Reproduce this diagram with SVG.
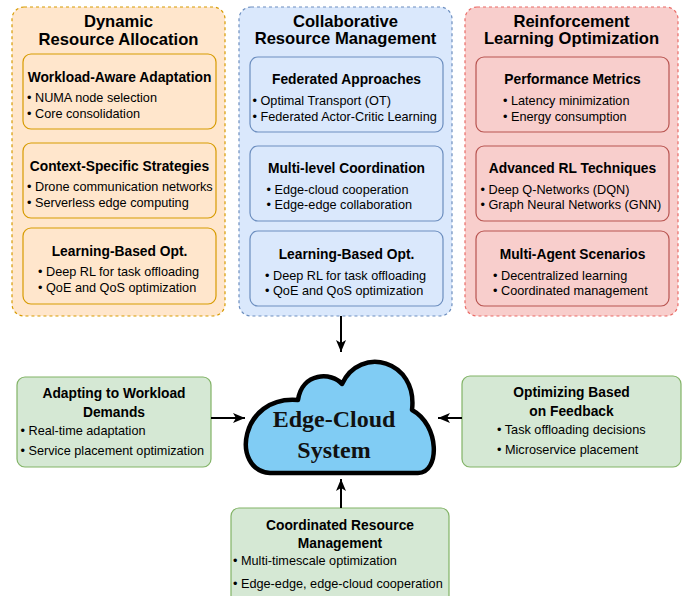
<svg xmlns="http://www.w3.org/2000/svg" width="699" height="596" viewBox="0 0 699 596">
<style>
text{font-family:"Liberation Sans",Arial,Helvetica,sans-serif;fill:#000}
.t{font-size:16.6px;font-weight:bold;text-anchor:middle}
.h{font-size:13.8px;font-weight:bold;text-anchor:middle}
.i{font-size:12.7px}
.c{font-family:"Liberation Serif","Times New Roman",serif;font-size:24px;font-weight:bold;text-anchor:middle;fill:#111}
.oc{fill:#ffe6cc;stroke:#d79b00;stroke-width:1.2;stroke-dasharray:3 3}
.oi{fill:#ffe6cc;stroke:#d79b00;stroke-width:1.2}
.bc{fill:#dae8fc;stroke:#6c8ebf;stroke-width:1.2;stroke-dasharray:3 3}
.bi{fill:#dae8fc;stroke:#6c8ebf;stroke-width:1.2}
.rc{fill:#f8cecc;stroke:#ea6b66;stroke-width:1.2;stroke-dasharray:3 3}
.ri{fill:#f8cecc;stroke:#b85450;stroke-width:1.2}
.g{fill:#d5e8d4;stroke:#82b366;stroke-width:1.2}
.e{fill:none;stroke:#000;stroke-width:2}
</style>
<defs>
<marker id="ah" markerUnits="userSpaceOnUse" markerWidth="13" markerHeight="11" refX="12" refY="5" orient="auto">
<path d="M0,0 L12,5 L0,10 L3,5 z" fill="#000"/>
</marker>
</defs>

<g id="dynamic-resource-allocation">
<rect class="oc" x="12" y="7" width="213" height="309" rx="12"/>
<text class="t" x="118.5" y="27">Dynamic</text>
<text class="t" x="118.5" y="45">Resource Allocation</text>
</g>
<g id="workload-aware">
<rect class="oi" x="23" y="54" width="193" height="75" rx="8"/>
<text class="h" x="119.5" y="82">Workload-Aware Adaptation</text>
<text class="i" x="27" y="102">• NUMA node selection</text>
<text class="i" x="27" y="118">• Core consolidation</text>
</g>
<g id="context-specific">
<rect class="oi" x="23" y="143" width="193" height="75" rx="8"/>
<text class="h" x="119.5" y="171">Context-Specific Strategies</text>
<text class="i" x="27" y="191">• Drone communication networks</text>
<text class="i" x="27" y="207">• Serverless edge computing</text>
</g>
<g id="learning-based-1">
<rect class="oi" x="23" y="228" width="193" height="76" rx="8"/>
<text class="h" x="119.5" y="256">Learning-Based Opt.</text>
<text class="i" x="38" y="276">• Deep RL for task offloading</text>
<text class="i" x="38" y="292">• QoE and QoS optimization</text>
</g>

<g id="collaborative-resource-management">
<rect class="bc" x="239" y="7" width="213" height="309" rx="12"/>
<text class="t" x="345.5" y="26.5">Collaborative</text>
<text class="t" x="345.5" y="44">Resource Management</text>
</g>
<g id="federated">
<rect class="bi" x="250" y="57" width="193" height="75" rx="8"/>
<text class="h" x="346.5" y="84">Federated Approaches</text>
<text class="i" x="252.5" y="104.5">• Optimal Transport (OT)</text>
<text class="i" x="252.5" y="120.5">• Federated Actor-Critic Learning</text>
</g>
<g id="multi-level">
<rect class="bi" x="250" y="146" width="193" height="75" rx="8"/>
<text class="h" x="346.5" y="173">Multi-level Coordination</text>
<text class="i" x="266.5" y="193.5">• Edge-cloud cooperation</text>
<text class="i" x="266.5" y="208.5">• Edge-edge collaboration</text>
</g>
<g id="learning-based-2">
<rect class="bi" x="250" y="231" width="193" height="75" rx="8"/>
<text class="h" x="346.5" y="259">Learning-Based Opt.</text>
<text class="i" x="265" y="279.5">• Deep RL for task offloading</text>
<text class="i" x="265" y="294.5">• QoE and QoS optimization</text>
</g>

<g id="reinforcement-learning-optimization">
<rect class="rc" x="465" y="7" width="213" height="309" rx="12"/>
<text class="t" x="571.5" y="26.5">Reinforcement</text>
<text class="t" x="571.5" y="44">Learning Optimization</text>
</g>
<g id="performance-metrics">
<rect class="ri" x="476" y="57" width="193" height="75" rx="8"/>
<text class="h" x="572.5" y="84">Performance Metrics</text>
<text class="i" x="503" y="104.5">• Latency minimization</text>
<text class="i" x="503" y="120.5">• Energy consumption</text>
</g>
<g id="advanced-rl">
<rect class="ri" x="476" y="146" width="193" height="75" rx="8"/>
<text class="h" x="572.5" y="173">Advanced RL Techniques</text>
<text class="i" x="480.5" y="193.5">• Deep Q-Networks (DQN)</text>
<text class="i" x="480.5" y="208.5">• Graph Neural Networks (GNN)</text>
</g>
<g id="multi-agent">
<rect class="ri" x="476" y="231" width="193" height="75" rx="8"/>
<text class="h" x="572.5" y="259">Multi-Agent Scenarios</text>
<text class="i" x="493" y="279.5">• Decentralized learning</text>
<text class="i" x="493" y="294.5">• Coordinated management</text>
</g>

<g id="edge-cloud-system">
<path d="M270,473 L418,473 C440,473 440,425 412,410 C418,360 360,345 342,384 C332,372 302,372 298,400 C240,395 230,470 270,473 Z" fill="#80ccf4" stroke="#000" stroke-width="4.5" stroke-linejoin="round"/>
<text class="c" x="334" y="427">Edge-Cloud</text>
<text class="c" x="334" y="458">System</text>
</g>

<g id="adapting-workload">
<rect class="g" x="17" y="377" width="194" height="90" rx="8"/>
<text class="h" x="114" y="398">Adapting to Workload</text>
<text class="h" x="114" y="416.5">Demands</text>
<text class="i" x="20.5" y="434.5">• Real-time adaptation</text>
<text class="i" x="20.5" y="454.5">• Service placement optimization</text>
</g>
<g id="optimizing-feedback">
<rect class="g" x="462" y="376" width="219" height="91" rx="8"/>
<text class="h" x="571.5" y="397">Optimizing Based</text>
<text class="h" x="571.5" y="415.5">on Feedback</text>
<text class="i" x="497" y="433.5">• Task offloading decisions</text>
<text class="i" x="497" y="453.5">• Microservice placement</text>
</g>
<g id="coordinated-resource-management">
<rect class="g" x="231" y="508" width="218" height="100" rx="8"/>
<text class="h" x="340" y="530">Coordinated Resource</text>
<text class="h" x="340" y="548">Management</text>
<text class="i" x="233" y="564.5">• Multi-timescale optimization</text>
<text class="i" x="233" y="588">• Edge-edge, edge-cloud cooperation</text>
</g>

<g id="connectors">
<path class="e" d="M341,316 L341,352" marker-end="url(#ah)"/>
<path class="e" d="M211,418 L245,418" marker-end="url(#ah)"/>
<path class="e" d="M462,418 L438,418" marker-end="url(#ah)"/>
<path class="e" d="M341,508 L341,479" marker-end="url(#ah)"/>
</g>
</svg>
